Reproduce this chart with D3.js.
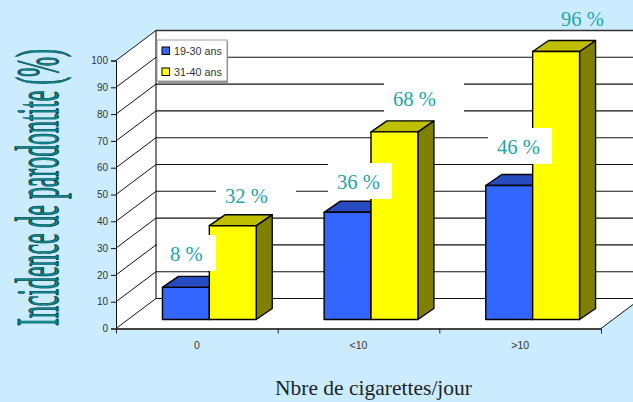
<!DOCTYPE html>
<html>
<head>
<meta charset="utf-8">
<script src="https://cdn.jsdelivr.net/npm/d3@7"></script>
<style>
    html, body { margin: 0; padding: 0; background: #cbecff; overflow: hidden; }
    svg { display: block; }
    text { font-family: "Liberation Sans", Arial, sans-serif; }
</style>
</head>
<body>
<div id="chart"></div>
<script>
const categories = ["0", "<10", ">10"];
const seriesNames = ["19-30 ans", "31-40 ans"];
const youngValues = [12, 40, 50];
const olderValues = [35, 70, 100];
const yTicks = [0, 10, 20, 30, 40, 50, 60, 70, 80, 90, 100];
const pctLabels = ["8 %", "32 %", "36 %", "68 %", "46 %", "96 %"];

const width = 633, height = 402;
const black = "#000";
const teal = "#22a6a6";
const tickGrey = "#333";

// front plane of the box, the back wall sits depth px right and depthY px up
const x0 = 116, x1 = 601, yZero = 328.5, yTop = 60.5;
const depth = 40, depthY = 30;
// bars stand a bit inside the floor
const barInset = 12.5, barInsetY = 9, barDepth = 16, barDepthY = 11;

const colors = [
    { front: "#3366ff", top: "#264cbf", side: "#1a3380" },
    { front: "#ffff00", top: "#bfbf00", side: "#808000" }
];

const x = d3.scaleBand().domain(categories).range([x0, x1]).paddingInner(0.42).paddingOuter(0.21);
const xSeries = d3.scaleBand().domain(seriesNames).range([0, x.bandwidth()]);
const y = d3.scaleLinear().domain([0, 100]).range([yZero, yTop]);

const svg = d3.select("#chart").append("svg")
    .attr("width", width)
    .attr("height", height);

// walls
svg.append("rect")
    .attr("x", x0 + depth).attr("y", y(100) - depthY)
    .attr("width", width).attr("height", y(0) - y(100))
    .attr("fill", "#fff");

svg.append("path")
    .attr("d", `M${x0},${y(100)}L${x0 + depth},${y(100) - depthY}V${y(0) - depthY}L${x0},${y(0)}Z`)
    .attr("fill", "#fff");

svg.append("path")
    .attr("d", `M${x0},${y(0)}L${x1},${y(0)}L${x1 + depth},${y(0) - depthY}H${width}V${y(0) - depthY}H${x0 + depth}Z`)
    .attr("fill", "#fff");

// grid on back wall and side wall
svg.append("g").selectAll("line")
    .data(yTicks)
    .join("line")
    .attr("x1", x0 + depth).attr("x2", width)
    .attr("y1", d => y(d) - depthY).attr("y2", d => y(d) - depthY)
    .attr("stroke", d => d === 100 ? "#333" : "#111")
    .attr("stroke-width", d => d === 100 ? 1.6 : 1.1);

svg.append("g").selectAll("line")
    .data(yTicks)
    .join("line")
    .attr("x1", x0).attr("y1", d => y(d))
    .attr("x2", x0 + depth).attr("y2", d => y(d) - depthY)
    .attr("stroke", "#111")
    .attr("stroke-width", 1);

svg.append("line")
    .attr("x1", x0 + depth).attr("x2", x0 + depth)
    .attr("y1", y(100) - depthY).attr("y2", y(0) - depthY)
    .attr("stroke", "#111").attr("stroke-width", 1.1);

svg.append("line")
    .attr("x1", x1).attr("y1", y(0))
    .attr("x2", x1 + depth).attr("y2", y(0) - depthY)
    .attr("stroke", "#111").attr("stroke-width", 1);

// y axis
const yAxis = svg.append("g")
    .attr("transform", `translate(${x0},0)`)
    .call(d3.axisLeft(y).tickValues(yTicks).tickSize(5).tickPadding(3));
yAxis.selectAll("text").style("font-size", "10px").attr("fill", tickGrey);
yAxis.selectAll("line").attr("stroke", "#111");
yAxis.select(".domain").attr("stroke", "#111");

// x axis, ticks on the band edges
const xEdges = d3.scaleLinear().domain([0, categories.length]).range([x0, x1]);
const xAxis = svg.append("g")
    .attr("transform", `translate(0,${y(0)})`)
    .call(d3.axisBottom(xEdges).tickValues(d3.range(categories.length + 1)).tickFormat("").tickSize(5).tickSizeOuter(0));
xAxis.selectAll("line").attr("stroke", "#222");
xAxis.select(".domain").attr("stroke", "#444").attr("stroke-width", 2);

svg.append("g").selectAll("text")
    .data(categories)
    .join("text")
    .attr("x", d => xEdges(categories.indexOf(d) + 0.5))
    .attr("y", y(0) + 20.5)
    .attr("text-anchor", "middle")
    .style("font-size", "10.5px")
    .attr("fill", tickGrey)
    .text(d => d);

// bars
function drawBar(g, cat, series, value, color) {
    const bx = x(cat) + xSeries(series) + barInset;
    const bw = xSeries.bandwidth();
    const by = y(value) - barInsetY;
    const by0 = y(0) - barInsetY;

    const bar = g.append("g")
        .attr("stroke", black)
        .attr("stroke-width", 1.4)
        .attr("stroke-linejoin", "round");

    bar.append("path")
        .attr("fill", color.side)
        .attr("d", `M${bx + bw},${by}l${barDepth},${-barDepthY}V${by0 - barDepthY}L${bx + bw},${by0}Z`);
    bar.append("path")
        .attr("fill", color.top)
        .attr("d", `M${bx},${by}l${barDepth},${-barDepthY}h${bw}l${-barDepth},${barDepthY}Z`);
    bar.append("rect")
        .attr("x", bx).attr("y", by)
        .attr("width", bw).attr("height", by0 - by)
        .attr("fill", color.front);
}

const barsG = svg.append("g");
categories.forEach((cat, i) => {
    drawBar(barsG, cat, seriesNames[0], youngValues[i], colors[0]);
    drawBar(barsG, cat, seriesNames[1], olderValues[i], colors[1]);
});

// white text boxes pasted over the chart
const labelBoxes = [
    { x: 157, y: 235, w: 59, tx: 170 },
    { x: 216, y: 177, w: 80, tx: 225 },
    { x: 328, y: 163, w: 64, tx: 337 },
    { x: 384, y: 80, w: 80, tx: 393 },
    { x: 488, y: 128, w: 64, tx: 497 },
    { x: 552, y: 0, w: 0, tx: 561 }
];

pctLabels.forEach((label, i) => {
    const b = labelBoxes[i];
    if (b.w > 0) {
        svg.append("rect")
            .attr("x", b.x).attr("y", b.y)
            .attr("width", b.w).attr("height", 36)
            .attr("fill", "#fff");
    }
    svg.append("text")
        .attr("x", b.tx)
        .attr("y", b.y + 26)
        .style("font-family", '"Liberation Serif", "Times New Roman", serif')
        .style("font-size", "20.6px")
        .attr("fill", teal)
        .text(label);
});

// legend
const legend = svg.append("g").attr("transform", "translate(157,40)");
legend.append("rect")
    .attr("x", 1).attr("y", 1)
    .attr("width", 70).attr("height", 42)
    .attr("fill", "#999");
legend.append("rect")
    .attr("width", 70).attr("height", 41)
    .attr("fill", "#fff")
    .attr("stroke", "#888")
    .attr("stroke-width", 0.8);

seriesNames.forEach((name, i) => {
    const row = legend.append("g").attr("transform", `translate(5,${7 + i * 21})`);
    row.append("rect")
        .attr("width", 7.5).attr("height", 7.5)
        .attr("fill", colors[i].front)
        .attr("stroke", black)
        .attr("stroke-width", 1);
    row.append("text")
        .attr("x", 12)
        .attr("y", 8)
        .style("font-size", "10.8px")
        .attr("fill", tickGrey)
        .text(name);
});

// axis titles
svg.append("text")
    .attr("x", 275)
    .attr("y", 395)
    .style("font-family", '"Liberation Serif", "Times New Roman", serif')
    .style("font-size", "21.5px")
    .attr("fill", "#222")
    .text("Nbre de cigarettes/jour");

// squeezed along its length, like the word-art title in the original
const yTitle = svg.append("text")
    .style("font-family", '"Liberation Serif", "Times New Roman", serif')
    .style("font-size", "62px")
    .attr("fill", "#0a8a8e")
    .attr("stroke", "#04393c")
    .attr("stroke-width", 1.1)
    .text("Incidence de parodontite (%)");
const squeeze = 277 / yTitle.node().getComputedTextLength();
yTitle.attr("transform", `translate(58,326) rotate(-90) scale(${squeeze},1)`);
</script>
</body>
</html>
